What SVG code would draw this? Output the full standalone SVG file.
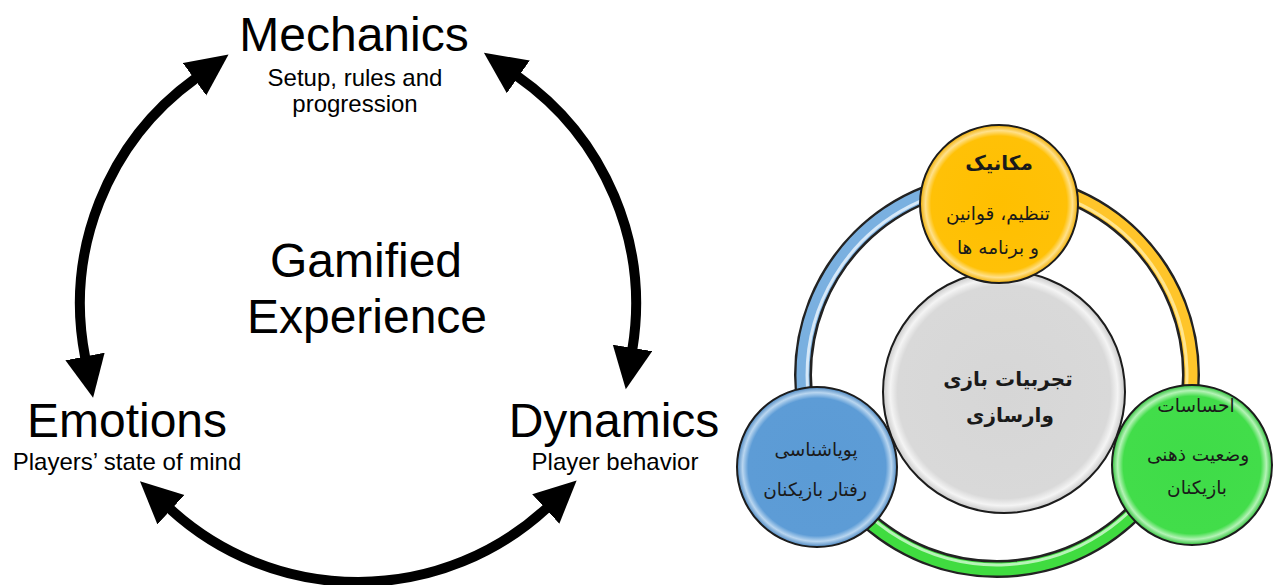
<svg xmlns="http://www.w3.org/2000/svg" width="1274" height="585" viewBox="0 0 1274 585">
<style>
.en{font-family:"Liberation Sans",Arial,sans-serif;fill:#000;text-anchor:middle}
.big{font-size:48px}
.sm{font-size:24px}
.fa{font-family:"DejaVu Sans","Noto Sans",sans-serif;fill:#1a1a1a;text-anchor:middle;font-size:18.5px}
.fab{font-weight:bold;font-size:20px}
.arc{fill:none;stroke:#000;stroke-width:10}
.ring-out{fill:none;stroke:#222;stroke-width:18}
.node{stroke:#1c1c1c;stroke-width:2}
</style>
<defs>
<marker id="ah" markerUnits="userSpaceOnUse" markerWidth="44" markerHeight="42" viewBox="0 0 44 42" refX="1" refY="20" orient="auto-start-reverse">
<path d="M0,0 L42,20 L0,40 z" fill="#000"/>
</marker>
<radialGradient id="gY" cx="0.5" cy="0.5" r="0.5">
<stop offset="0" stop-color="#ffbf00"/><stop offset="0.86" stop-color="#ffc107"/><stop offset="0.93" stop-color="#ffe08a"/><stop offset="1" stop-color="#f0ad00"/>
</radialGradient>
<radialGradient id="gB" cx="0.5" cy="0.5" r="0.5">
<stop offset="0" stop-color="#5b9bd5"/><stop offset="0.86" stop-color="#5d9cd6"/><stop offset="0.93" stop-color="#b9d6f0"/><stop offset="1" stop-color="#4a86c0"/>
</radialGradient>
<radialGradient id="gG" cx="0.5" cy="0.5" r="0.5">
<stop offset="0" stop-color="#3fdc48"/><stop offset="0.86" stop-color="#42dd4a"/><stop offset="0.93" stop-color="#b4f3b6"/><stop offset="1" stop-color="#2fc23a"/>
</radialGradient>
<radialGradient id="gC" cx="0.5" cy="0.5" r="0.5">
<stop offset="0" stop-color="#d6d6d6"/><stop offset="0.88" stop-color="#d9d9d9"/><stop offset="0.94" stop-color="#f4f4f4"/><stop offset="1" stop-color="#c8c8c8"/>
</radialGradient>
</defs>

<g id="connectors">
<path class="arc" d="M195.3,78.6 A278,278 0 0 0 85.2,357.5" marker-start="url(#ah)" marker-end="url(#ah)"/>
<path class="arc" d="M517.5,76.3 A278,278 0 0 1 632.4,348.9" marker-start="url(#ah)" marker-end="url(#ah)"/>
<path class="arc" d="M170.2,509 A278,278 0 0 0 546.5,508.3" marker-start="url(#ah)" marker-end="url(#ah)"/>
</g>

<g id="mechanics">
<text class="en big" x="354" y="51">Mechanics</text>
<text class="en sm" x="355" y="86">Setup, rules and</text>
<text class="en sm" x="355" y="112">progression</text>
</g>
<g id="center-en">
<text class="en big" x="366" y="277">Gamified</text>
<text class="en big" x="367" y="333">Experience</text>
</g>
<g id="emotions">
<text class="en big" x="127" y="437">Emotions</text>
<text class="en sm" x="127" y="470">Players’ state of mind</text>
</g>
<g id="dynamics">
<text class="en big" x="614" y="437">Dynamics</text>
<text class="en sm" x="615" y="470">Player behavior</text>
</g>

<g id="ring">
<circle class="ring-out" cx="997" cy="375" r="194"/>
<path d="M997,181 A194,194 0 0 1 1173.1,456.4" fill="none" stroke="#ffc52a" stroke-width="13"/>
<path d="M997,185 A190,190 0 0 1 1169.5,454.7" fill="none" stroke="#ffe58f" stroke-width="3"/>
<path d="M1173.1,456.4 A194,194 0 0 1 824.9,464.6" fill="none" stroke="#40dc40" stroke-width="13"/>
<path d="M1169.5,454.7 A190,190 0 0 1 828.5,462.7" fill="none" stroke="#b6f4b6" stroke-width="3"/>
<path d="M824.9,464.6 A194,194 0 0 1 997,181" fill="none" stroke="#7ab0e0" stroke-width="13"/>
<path d="M828.5,462.7 A190,190 0 0 1 997,185" fill="none" stroke="#d6e8f8" stroke-width="3"/>
</g>

<g id="experience">
<circle class="node" cx="1004" cy="392" r="121" fill="url(#gC)"/>
<text class="fa fab" x="1008" y="386">تجربیات بازی</text>
<text class="fa fab" x="1010" y="422">وارسازی</text>
</g>
<g id="mechanics-fa">
<circle class="node" cx="999" cy="204" r="79" fill="url(#gY)"/>
<text class="fa fab" x="999" y="170">مکانیک</text>
<text class="fa" x="998" y="220">تنظیم، قوانین</text>
<text class="fa" x="998" y="254">و برنامه ها</text>
</g>
<g id="dynamics-fa">
<circle class="node" cx="817" cy="467" r="80" fill="url(#gB)"/>
<text class="fa" x="816" y="456">پویاشناسی</text>
<text class="fa" x="815" y="496">رفتار بازیکنان</text>
</g>
<g id="emotions-fa">
<circle class="node" cx="1192" cy="465" r="80" fill="url(#gG)"/>
<text class="fa" x="1196" y="412">احساسات</text>
<text class="fa" x="1198" y="461">وضعیت ذهنی</text>
<text class="fa" x="1197" y="494">بازیکنان</text>
</g>
</svg>
